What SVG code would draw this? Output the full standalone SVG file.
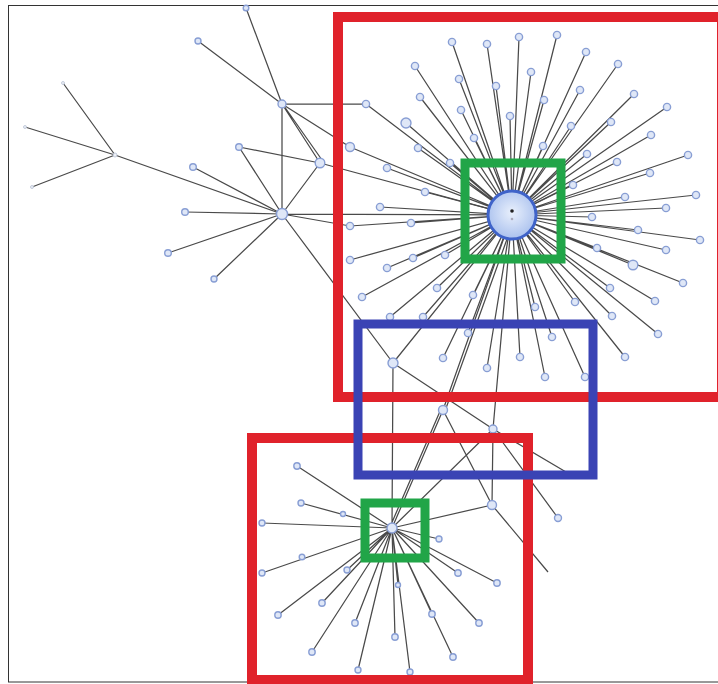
<svg xmlns="http://www.w3.org/2000/svg" width="718" height="684" viewBox="0 0 718 684">
<defs>
<radialGradient id="hg" cx="0.5" cy="0.45" r="0.55">
<stop offset="0" stop-color="#e9f0fc"/>
<stop offset="1" stop-color="#aac1ee"/>
</radialGradient>
<style>
.e{stroke:#4a4a4a;stroke-width:1.25;fill:none}
.n{fill:#dfe7f7;stroke:#889ed4;stroke-width:1.4}
.f{fill:#eef1f6;stroke:#b8c2d6;stroke-width:0.8}
.r{fill:none;stroke:#e0222b;stroke-width:10}
.g{fill:none;stroke:#21a548;stroke-width:9}
.b{fill:none;stroke:#3a43b4;stroke-width:9}
</style>
</defs>
<rect x="0" y="0" width="718" height="684" fill="#ffffff"/>
<rect x="8.5" y="5.5" width="720" height="676.5" fill="none" stroke="#333" stroke-width="1"/>

<g id="connectors">
<g class="e">
<path d="M512 215L452 42M512 215L487 44M512 215L519 37M512 215L557 35M512 215L586 52M512 215L415 66M512 215L459 79M512 215L496 86M512 215L531 72M512 215L618 64M512 215L580 90M512 215L420 97M512 215L366 104M512 215L544 100M512 215L634 94M512 215L667 107M512 215L406 123M512 215L461 110M512 215L510 116M512 215L571 126M512 215L611 122M512 215L474 138M512 215L543 146M512 215L651 135M512 215L350 147M512 215L418 148M512 215L587 154M512 215L617 162M512 215L688 155M512 215L387 168M512 215L450 163M512 215L650 173M512 215L425 192"/>
<path d="M512 215L573 185M512 215L625 197M512 215L696 195M512 215L666 208M512 215L592 217M512 215L638 230M512 215L700 240M512 215L597 248M512 215L666 250M512 215L633 265M512 215L683 283M512 215L610 288M512 215L655 301M512 215L575 302M512 215L535 307M512 215L612 316M512 215L658 334M512 215L552 337M512 215L625 357M512 215L520 357M512 215L545 377M512 215L585 377"/>
<path d="M512 215L380 207M512 215L350 226M512 215L411 223M512 215L350 260M512 215L387 268M512 215L413 258M512 215L445 255M512 215L362 297M512 215L437 288M512 215L473 295M512 215L390 317M512 215L423 317M512 215L468 333M512 215L443 358M512 215L487 368"/>
<path d="M246 8L282 104M198 41L282 104M282 104L366 104M282 104L282 214M282 104L320 163M282 104L350 147M284 106L322 160"/>
<path d="M63 83L115 155M25 127L115 155M32 187L115 155M115 155L282 214"/>
<path d="M239 147L320 163M239 147L282 214M193 167L282 214M185 212L282 214M168 253L282 214M214 279L282 214M320 163L282 214M320 163L512 215M282 214L512 215M282 214L350 226M282 214L393 363"/>
<path d="M393 363L392 528M393 363L512 215M393 363L493 429M493 429L566 472M493 429L512 215M493 429L492 505M493 429L558 518M443 410L512 215M445 411L515 217M443 410L392 528M441 409L390 527M392 528L493 429M492 505L392 528M492 505L548 572M443 410L492 505"/>
<path d="M392 528L297 466M392 528L301 503M392 528L262 523M392 528L262 573M392 528L278 615M392 528L322 603M392 528L312 652M392 528L355 623M392 528L358 670M392 528L395 637M392 528L410 672M392 528L432 614M392 528L453 657M392 528L479 623M392 528L458 573M392 528L497 583M392 528L439 539M392 528L347 570M392 528L398 585"/>
</g>
</g>

<g id="hub1"><circle cx="512" cy="215" r="24" fill="url(#hg)" stroke="#3f63c9" stroke-width="3"/><circle cx="512" cy="211" r="1.8" fill="#222"/><circle cx="512" cy="219" r="1.3" fill="#aab"/></g>
<g id="hub2"><circle class="n" cx="392" cy="528" r="5"/></g>

<g id="u1"><circle class="n" cx="452" cy="42" r="3.6"/></g>
<g id="u2"><circle class="n" cx="487" cy="44" r="3.6"/></g>
<g id="u3"><circle class="n" cx="519" cy="37" r="3.6"/></g>
<g id="u4"><circle class="n" cx="557" cy="35" r="3.6"/></g>
<g id="u5"><circle class="n" cx="586" cy="52" r="3.6"/></g>
<g id="u6"><circle class="n" cx="415" cy="66" r="3.6"/></g>
<g id="u7"><circle class="n" cx="459" cy="79" r="3.6"/></g>
<g id="u8"><circle class="n" cx="496" cy="86" r="3.6"/></g>
<g id="u9"><circle class="n" cx="531" cy="72" r="3.6"/></g>
<g id="u10"><circle class="n" cx="618" cy="64" r="3.6"/></g>
<g id="u11"><circle class="n" cx="580" cy="90" r="3.6"/></g>
<g id="u12"><circle class="n" cx="420" cy="97" r="3.6"/></g>
<g id="u13"><circle class="n" cx="366" cy="104" r="3.6"/></g>
<g id="u14"><circle class="n" cx="544" cy="100" r="3.6"/></g>
<g id="u15"><circle class="n" cx="634" cy="94" r="3.6"/></g>
<g id="u16"><circle class="n" cx="667" cy="107" r="3.6"/></g>
<g id="u17"><circle class="n" cx="406" cy="123" r="5"/></g>
<g id="u18"><circle class="n" cx="461" cy="110" r="3.6"/></g>
<g id="u19"><circle class="n" cx="510" cy="116" r="3.6"/></g>
<g id="u20"><circle class="n" cx="571" cy="126" r="3.6"/></g>
<g id="u21"><circle class="n" cx="611" cy="122" r="3.6"/></g>
<g id="u22"><circle class="n" cx="474" cy="138" r="3.6"/></g>
<g id="u23"><circle class="n" cx="543" cy="146" r="3.6"/></g>
<g id="u24"><circle class="n" cx="651" cy="135" r="3.6"/></g>
<g id="u25"><circle class="n" cx="350" cy="147" r="4.5"/></g>
<g id="u26"><circle class="n" cx="418" cy="148" r="3.6"/></g>
<g id="u27"><circle class="n" cx="587" cy="154" r="3.6"/></g>
<g id="u28"><circle class="n" cx="617" cy="162" r="3.6"/></g>
<g id="u29"><circle class="n" cx="688" cy="155" r="3.6"/></g>
<g id="u30"><circle class="n" cx="387" cy="168" r="3.6"/></g>
<g id="u31"><circle class="n" cx="450" cy="163" r="3.6"/></g>
<g id="u32"><circle class="n" cx="650" cy="173" r="3.6"/></g>
<g id="u33"><circle class="n" cx="425" cy="192" r="3.6"/></g>
<g id="u34"><circle class="n" cx="573" cy="185" r="3.6"/></g>
<g id="u35"><circle class="n" cx="625" cy="197" r="3.6"/></g>
<g id="u36"><circle class="n" cx="696" cy="195" r="3.6"/></g>
<g id="u37"><circle class="n" cx="666" cy="208" r="3.6"/></g>
<g id="u38"><circle class="n" cx="592" cy="217" r="3.6"/></g>
<g id="u39"><circle class="n" cx="638" cy="230" r="3.6"/></g>
<g id="u40"><circle class="n" cx="700" cy="240" r="3.6"/></g>
<g id="u41"><circle class="n" cx="597" cy="248" r="3.6"/></g>
<g id="u42"><circle class="n" cx="666" cy="250" r="3.6"/></g>
<g id="u43"><circle class="n" cx="633" cy="265" r="4.8"/></g>
<g id="u44"><circle class="n" cx="683" cy="283" r="3.6"/></g>
<g id="u45"><circle class="n" cx="610" cy="288" r="3.6"/></g>
<g id="u46"><circle class="n" cx="655" cy="301" r="3.6"/></g>
<g id="u47"><circle class="n" cx="575" cy="302" r="3.6"/></g>
<g id="u48"><circle class="n" cx="535" cy="307" r="3.6"/></g>
<g id="u49"><circle class="n" cx="612" cy="316" r="3.6"/></g>
<g id="u50"><circle class="n" cx="658" cy="334" r="3.6"/></g>
<g id="u51"><circle class="n" cx="552" cy="337" r="3.6"/></g>
<g id="u52"><circle class="n" cx="625" cy="357" r="3.6"/></g>
<g id="u53"><circle class="n" cx="520" cy="357" r="3.6"/></g>
<g id="u54"><circle class="n" cx="545" cy="377" r="3.6"/></g>
<g id="u55"><circle class="n" cx="585" cy="377" r="3.6"/></g>
<g id="u56"><circle class="n" cx="380" cy="207" r="3.6"/></g>
<g id="u57"><circle class="n" cx="350" cy="226" r="3.6"/></g>
<g id="u58"><circle class="n" cx="411" cy="223" r="3.6"/></g>
<g id="u59"><circle class="n" cx="350" cy="260" r="3.6"/></g>
<g id="u60"><circle class="n" cx="387" cy="268" r="3.6"/></g>
<g id="u61"><circle class="n" cx="413" cy="258" r="3.6"/></g>
<g id="u62"><circle class="n" cx="445" cy="255" r="3.6"/></g>
<g id="u63"><circle class="n" cx="362" cy="297" r="3.6"/></g>
<g id="u64"><circle class="n" cx="437" cy="288" r="3.6"/></g>
<g id="u65"><circle class="n" cx="473" cy="295" r="3.6"/></g>
<g id="u66"><circle class="n" cx="390" cy="317" r="3.6"/></g>
<g id="u67"><circle class="n" cx="423" cy="317" r="3.6"/></g>
<g id="u68"><circle class="n" cx="468" cy="333" r="3.6"/></g>
<g id="u69"><circle class="n" cx="443" cy="358" r="3.6"/></g>
<g id="u70"><circle class="n" cx="487" cy="368" r="3.6"/></g>

<g id="a1"><circle class="n" cx="246" cy="8" r="2.8"/></g>
<g id="a2"><circle class="n" cx="198" cy="41" r="3"/></g>
<g id="a3"><circle class="n" cx="282" cy="104" r="4"/></g>
<g id="a4"><circle class="f" cx="63" cy="83" r="1.5"/></g>
<g id="a5"><circle class="f" cx="25" cy="127" r="1.5"/></g>
<g id="a6"><circle class="f" cx="32" cy="187" r="1.5"/></g>
<g id="a7"><circle class="f" cx="115" cy="155" r="2"/></g>
<g id="a8"><circle class="n" cx="239" cy="147" r="3.3"/></g>
<g id="a9"><circle class="n" cx="320" cy="163" r="4.8"/></g>
<g id="a10"><circle class="n" cx="193" cy="167" r="3.3"/></g>
<g id="a11"><circle class="n" cx="282" cy="214" r="5.5"/></g>
<g id="a12"><circle class="n" cx="185" cy="212" r="3.3"/></g>
<g id="a13"><circle class="n" cx="168" cy="253" r="3.3"/></g>
<g id="a14"><circle class="n" cx="214" cy="279" r="3"/></g>

<g id="m1"><circle class="n" cx="393" cy="363" r="5"/></g>
<g id="m2"><circle class="n" cx="443" cy="410" r="4.5"/></g>
<g id="m3"><circle class="n" cx="493" cy="429" r="4"/></g>
<g id="m4"><circle class="n" cx="492" cy="505" r="4.5"/></g>
<g id="m5"><circle class="n" cx="558" cy="518" r="3.5"/></g>

<g id="l1"><circle class="n" cx="297" cy="466" r="3.2"/></g>
<g id="l2"><circle class="n" cx="301" cy="503" r="3"/></g>
<g id="l3"><circle class="n" cx="262" cy="523" r="3"/></g>
<g id="l4"><circle class="n" cx="262" cy="573" r="3"/></g>
<g id="l5"><circle class="n" cx="278" cy="615" r="3.2"/></g>
<g id="l6"><circle class="n" cx="322" cy="603" r="3.2"/></g>
<g id="l7"><circle class="n" cx="312" cy="652" r="3.2"/></g>
<g id="l8"><circle class="n" cx="355" cy="623" r="3.2"/></g>
<g id="l9"><circle class="n" cx="358" cy="670" r="3"/></g>
<g id="l10"><circle class="n" cx="395" cy="637" r="3.2"/></g>
<g id="l11"><circle class="n" cx="410" cy="672" r="3"/></g>
<g id="l12"><circle class="n" cx="432" cy="614" r="3.2"/></g>
<g id="l13"><circle class="n" cx="453" cy="657" r="3.2"/></g>
<g id="l14"><circle class="n" cx="479" cy="623" r="3.2"/></g>
<g id="l15"><circle class="n" cx="458" cy="573" r="3.2"/></g>
<g id="l16"><circle class="n" cx="497" cy="583" r="3.2"/></g>
<g id="l17"><circle class="n" cx="439" cy="539" r="3"/></g>
<g id="l18"><circle class="n" cx="347" cy="570" r="3"/></g>
<g id="l19"><circle class="n" cx="302" cy="557" r="2.8"/></g>
<g id="l20"><circle class="n" cx="343" cy="514" r="2.5"/></g>
<g id="l21"><circle class="n" cx="398" cy="585" r="2.5"/></g>

<g id="highlights">
<rect class="r" x="338" y="17" width="384" height="380"/>
<rect class="r" x="252" y="438" width="276" height="242"/>
<rect class="g" x="465" y="163" width="96" height="96"/>
<rect class="g" x="365" y="503" width="60" height="55"/>
<rect class="b" x="358" y="324" width="235" height="151"/>
</g>
</svg>
